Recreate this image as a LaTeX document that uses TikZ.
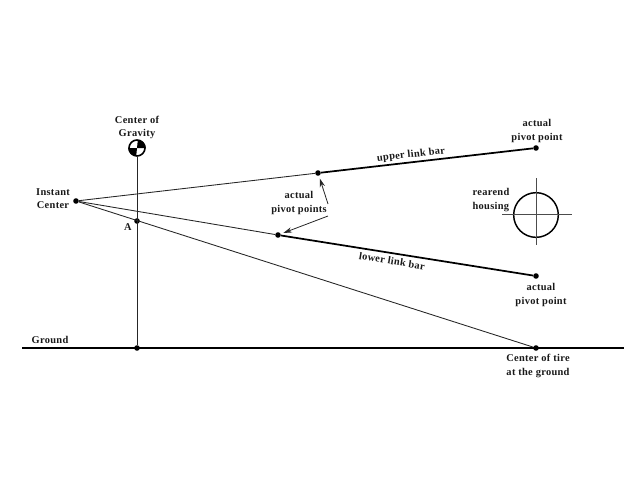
\documentclass[tikz,border=0pt]{standalone}
\usepackage{fontspec}
\setmainfont[LetterSpace=3]{Liberation Serif}
\usetikzlibrary{arrows.meta}
\tikzset{
  pivot/.style={circle,fill=black,inner sep=0pt,minimum size=4.2pt},
  lbl/.style={font=\bfseries\fontsize{7.8}{9.8}\selectfont,text=black!90,align=center,inner sep=0pt},
  thinline/.style={line width=0.65pt,black!85},
  barline/.style={line width=1.3pt,black},
  callout/.style={line width=0.6pt,black!85,shorten >=2pt,-{Stealth[length=6.5pt,width=4pt]}}
}
\begin{document}
\begin{tikzpicture}[x=0.75pt,y=-0.75pt]
    \useasboundingbox (0,0) rectangle (640,480);

    % points
    \node[pivot] (ic) at (76,201) {};
    \node[pivot] (a) at (137,221) {};
    \node[pivot] (upperin) at (318,173) {};
    \node[pivot] (upperout) at (536,148) {};
    \node[pivot] (lowerin) at (278,235) {};
    \node[pivot] (lowerout) at (536,276) {};
    \node[pivot] (tire) at (536,348) {};
    \node[pivot] (base) at (137,348) {};
    \coordinate (groundl) at (22,348);
    \coordinate (groundr) at (624,348);
    \coordinate (arrowa) at (328,204);
    \coordinate (arrowb) at (328,216);

    % center of gravity mark
    \node[circle,draw,line width=1.2pt,minimum size=12pt,inner sep=0pt] (cg) at (137,148) {};
    \fill (cg.center) -- (cg.east) arc (0:90:6pt) -- cycle;
    \fill (cg.center) -- (cg.west) arc (180:270:6pt) -- cycle;

    % ground and vertical line
    \draw[line width=1.3pt] (groundl) -- (groundr);
    \draw[thinline] (cg) -- (base);

    % lines from the instant center
    \draw[thinline] (ic) -- (upperin);
    \draw[thinline] (ic) -- (lowerin);
    \draw[thinline] (ic) -- (tire);

    % link bars
    \draw[barline] (upperin) -- (upperout);
    \draw[barline] (lowerin) -- (lowerout);

    % rearend housing
    \node[circle,draw,line width=1.1pt,minimum size=33.5pt,inner sep=0pt] (housing) at (536,215) {};
    \coordinate (crossl) at (502,214);
    \coordinate (crossr) at (572,214);
    \coordinate (crosst) at (536,178);
    \coordinate (crossb) at (536,245);
    \draw[line width=0.4pt,black!70] (crossl) -- (crossr);
    \draw[line width=0.4pt,black!70] (crosst) -- (crossb);

    % arrows
    \draw[callout] (arrowa) -- (upperin);
    \draw[callout] (arrowb) -- (lowerin);

    % labels
    \node[lbl] (cglabel) at (137,127.5) {Center of\\Gravity};
    \node[lbl] (iclabel) at (53,199) {Instant\\Center};
    \node[lbl] (alabel) at (128,227) {A};
    \node[lbl] (pointslabel) at (299,203) {actual\\pivot points};
    \node[lbl,rotate=6.5] (upperlabel) at (411,155) {upper link bar};
    \node[lbl,rotate=-9.5] (lowerlabel) at (392,261) {lower link bar};
    \node[lbl] (upperpoint) at (537,131) {actual\\pivot point};
    \node[lbl] (lowerpoint) at (541,295) {actual\\pivot point};
    \node[lbl,align=left] (housinglabel) at (491,200) {rearend\\housing};
    \node[lbl] (groundlabel) at (50,339.5) {Ground};
    \node[lbl] (tirelabel) at (538,366) {Center of tire\\at the ground};

\end{tikzpicture}
\end{document}
